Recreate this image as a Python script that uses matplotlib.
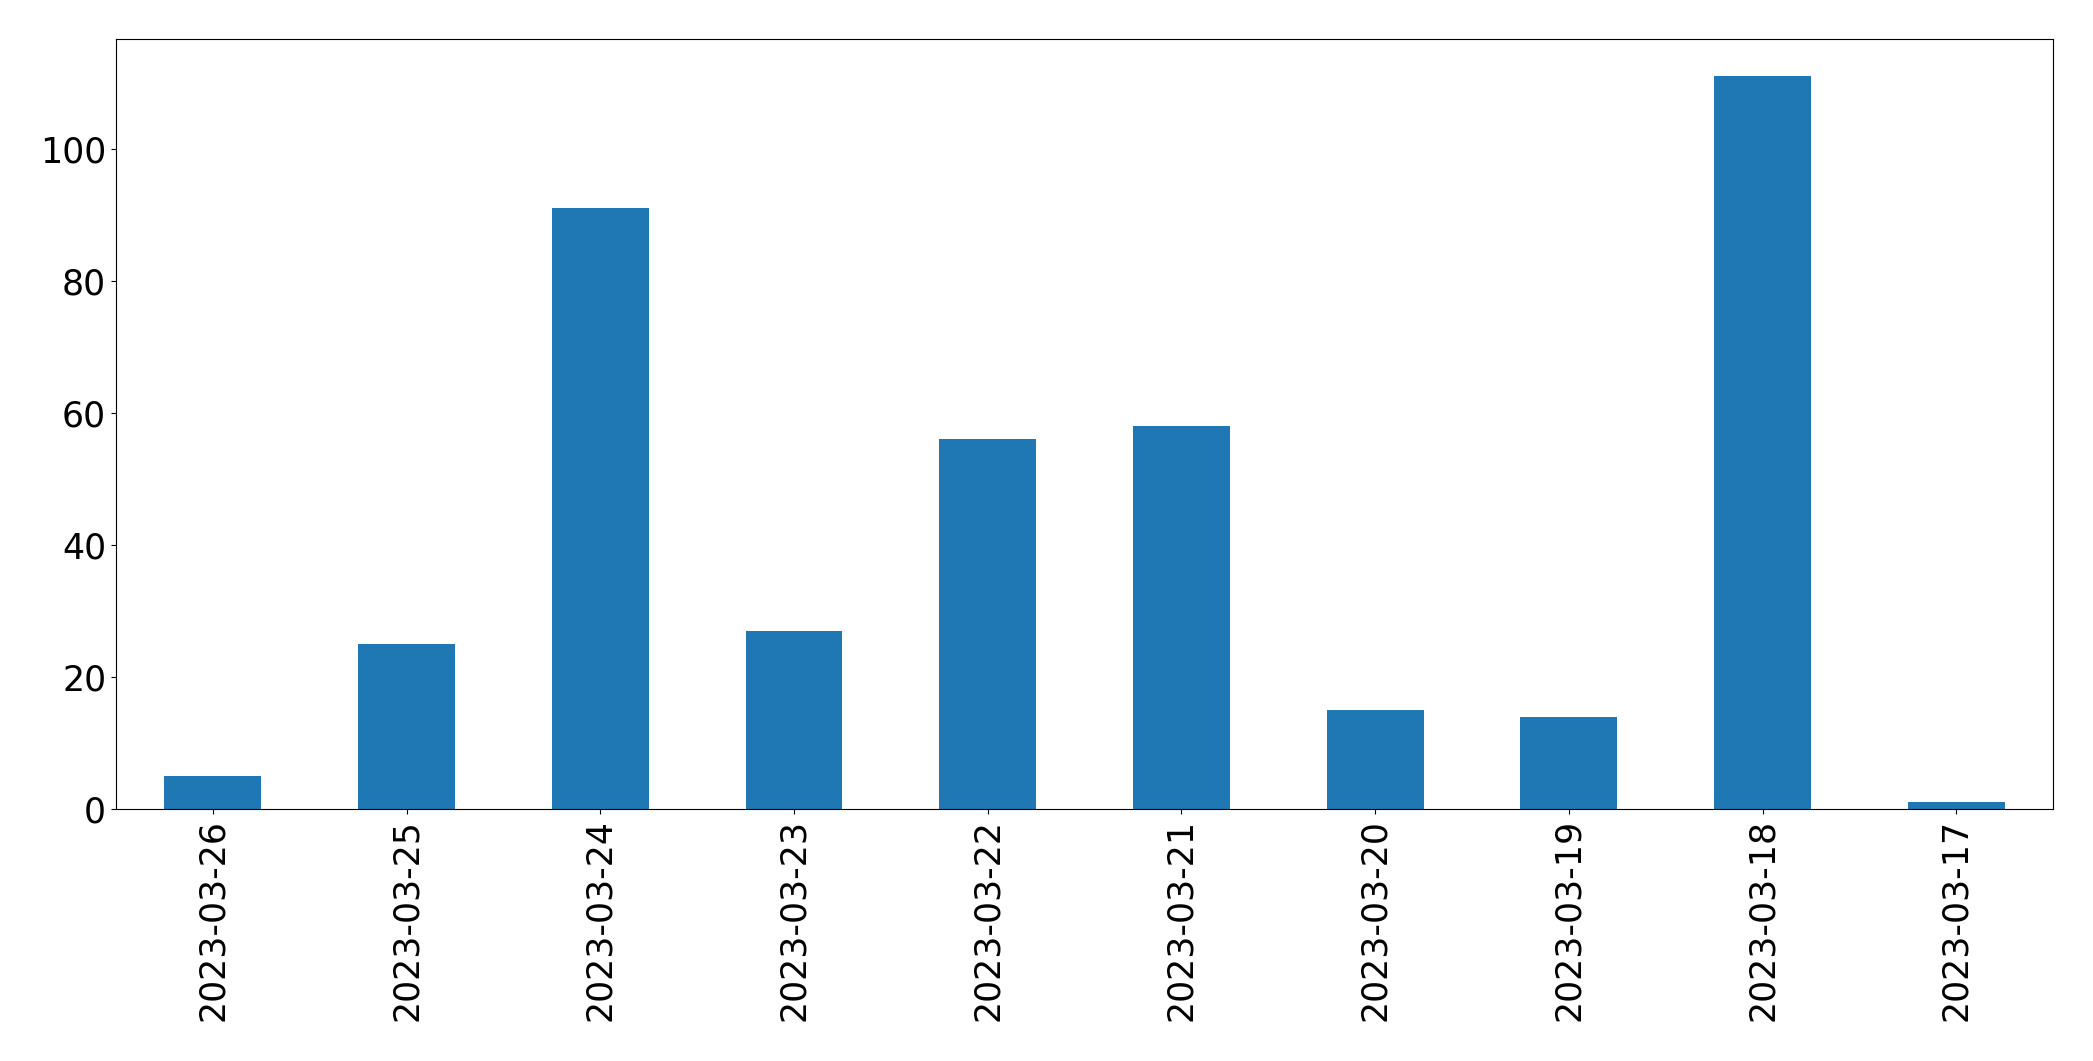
import matplotlib
matplotlib.use("Agg")
import matplotlib.pyplot as plt

# 每日數量（依原圖順序，由新到舊）
dates = ["2023-03-26", "2023-03-25", "2023-03-24", "2023-03-23", "2023-03-22",
         "2023-03-21", "2023-03-20", "2023-03-19", "2023-03-18", "2023-03-17"]
counts = [5, 25, 91, 27, 56, 58, 15, 14, 111, 1]

fig = plt.figure(figsize=(20.93, 10.61), dpi=100)
ax = fig.add_axes([0.0554, 0.2375, 0.9256, 0.7255])

x = range(len(dates))
ax.bar(x, counts, width=0.5, color="#1f77b4")
ax.set_xlim(-0.5, len(dates) - 0.5)
ax.set_xticks(list(x))
ax.set_xticklabels(dates, rotation=90, fontsize=25)
ax.tick_params(axis="y", labelsize=25)

fig.savefig("out.png", dpi=100)
